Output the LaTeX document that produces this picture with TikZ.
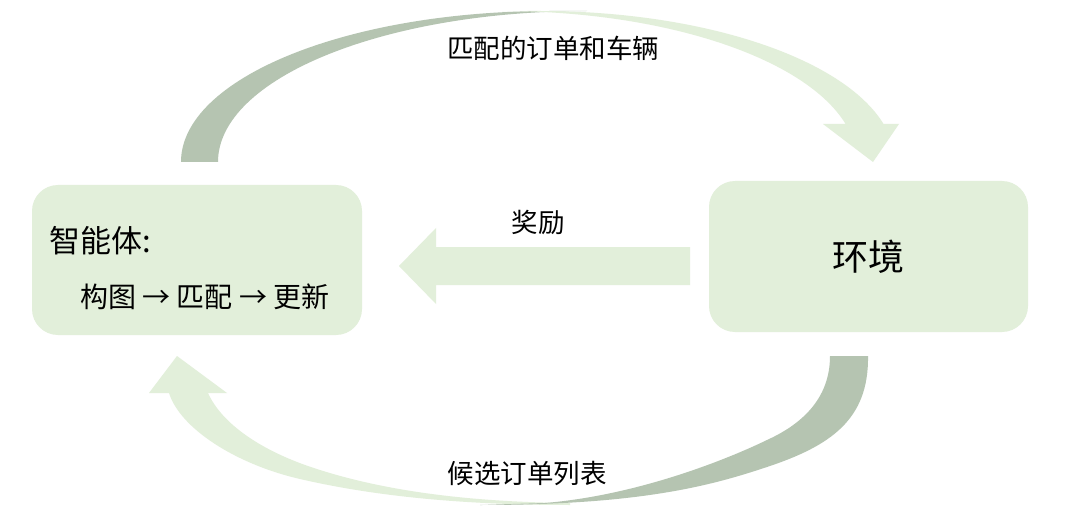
\documentclass[tikz,border=0pt]{standalone}
\usepackage{fontspec}
\setmainfont{Noto Sans CJK SC}
\usetikzlibrary{calc}
\definecolor{lightg}{HTML}{E2EFDA}
\definecolor{darkg}{HTML}{B5C4B1}
\tikzset{
  box/.style={fill=lightg, draw=none, rounded corners=26pt, inner sep=0pt},
  lbl/.style={inner sep=0pt, text=black, font=\fontsize{26.5}{32}\selectfont},
  topell/.style={x radius=355, y radius=151},
}
\begin{document}
\begin{tikzpicture}[x=1pt,y=-1pt]
\useasboundingbox (0,0) rectangle (1080,516);
\fill[white] (0,0) rectangle (1080,516);
% boxes
\node[box, minimum width=330pt, minimum height=150pt] (agent) at (197,260) {};
\node[box, minimum width=319pt, minimum height=151pt] (env) at (868.5,256.5) {};
\node[lbl, anchor=west, font=\fontsize{31}{37}\selectfont] (agentT) at (49,241) {智能体:};
\node[lbl, anchor=west, font=\fontsize{28}{34}\selectfont] (agentS) at (80,297) {构图 → 匹配 → 更新};
\node[lbl, font=\fontsize{36}{42}\selectfont] (envT) at (env.center) {环境};
% middle arrow (reward)
\fill[lightg] (690,247) -- (436,247) -- (436,228) -- (399,266) -- (436,304) -- (436,285) -- (690,285) -- cycle;
\node[lbl] (reward) at (538,222) {奖励};
% top curved arrow: dark back part
\fill[darkg] (181,162) arc[start angle=180, end angle=270, x radius=369, y radius=151]
  -- (587,11) arc[start angle=270, end angle=180, x radius=369, y radius=151] -- cycle;
% top curved arrow: light front part
\fill[lightg] (540,11) arc[start angle=270, end angle=345.42, topell]
  -- (899,124) -- (873,162) -- (823,124) -- (845.6,124)
  arc[start angle=345.42, end angle=270, topell] -- cycle;
\node[lbl] (matched) at (553,48) {匹配的订单和车辆};
% bottom curved arrow: light front part
\fill[lightg] (570,505) .. controls (450,505) and (365,494) .. (300,479)
  .. controls (235,464) and (180,428) .. (169,393)
  -- (149,393) -- (177,356) -- (227,393) -- (208,393)
  .. controls (222,424) and (262,452) .. (320,470)
  .. controls (380,489) and (460,502) .. (570,503) -- cycle;
% bottom curved arrow: dark back part
\fill[darkg] (868,356) .. controls (869,420) and (830,446) .. (767,467)
  .. controls (710,486) and (640,505) .. (480,505)
  -- (545,503) .. controls (640,495) and (730,458) .. (767,440)
  .. controls (800,425) and (830,400) .. (830,356) -- cycle;
\node[lbl] (cands) at (527,473) {候选订单列表};
\end{tikzpicture}
\end{document}
